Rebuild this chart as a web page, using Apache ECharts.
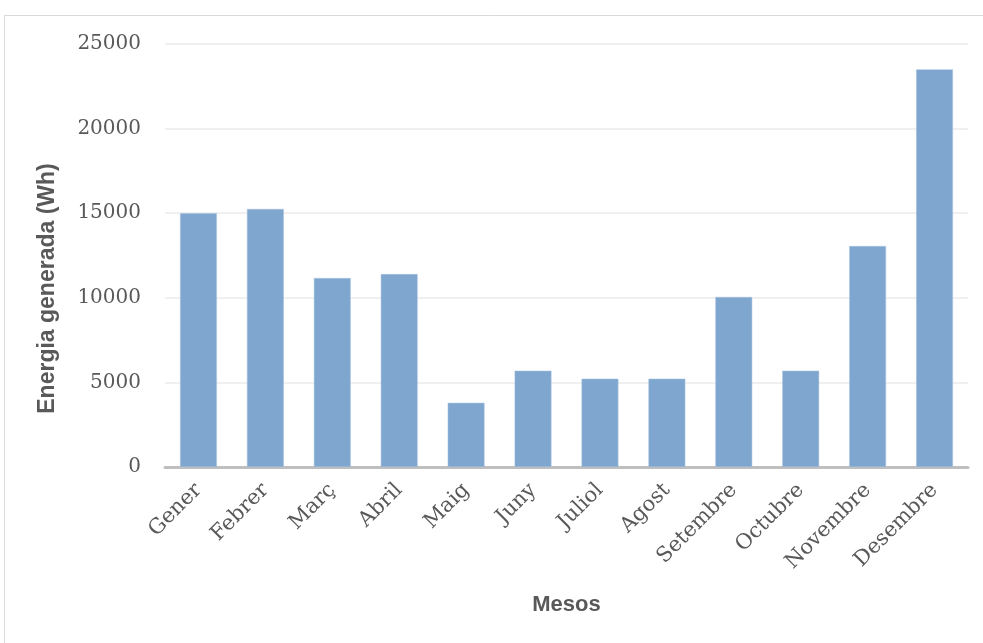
<!DOCTYPE html>
<html>
<head>
<meta charset="utf-8">
<style>
  html, body { margin: 0; padding: 0; background: #ffffff; }
  #chart { width: 983px; height: 643px; }
</style>
<script src="https://cdn.jsdelivr.net/npm/echarts@6/dist/echarts.min.js"></script>
</head>
<body>
<div id="chart"></div>
<script>
// Monthly generated energy (Wh)
const months = ['Gener', 'Febrer', 'Març', 'Abril', 'Maig', 'Juny', 'Juliol', 'Agost', 'Setembre', 'Octubre', 'Novembre', 'Desembre'];
const energyWh = [15000, 15250, 11170, 11400, 3790, 5690, 5220, 5220, 10050, 5690, 13060, 23500];
const yTicks = { min: 0, max: 25000, interval: 5000 };

const chart = echarts.init(document.getElementById('chart'), null, { renderer: 'canvas' });

chart.setOption({
  animation: false,
  backgroundColor: '#ffffff',
  graphic: [
    {
      type: 'rect',
      shape: { x: 4.5, y: 15.5, width: 1100, height: 800 },
      style: { fill: 'none', stroke: '#d9d9d9', lineWidth: 1 },
      silent: true
    }
  ],
  grid: { left: 165, right: 15, top: 44, bottom: 176, containLabel: false },
  xAxis: {
    type: 'category',
    data: months,
    name: 'Mesos',
    nameLocation: 'middle',
    nameGap: 127,
    nameTextStyle: { fontFamily: 'Liberation Sans', fontWeight: 'bold', fontSize: 22, color: '#595959' },
    axisLine: { lineStyle: { color: '#bfbfbf', width: 3 } },
    axisTick: { show: false },
    axisLabel: {
      rotate: 45,
      margin: 20,
      interval: 0,
      fontFamily: 'DejaVu Serif',
      fontSize: 21,
      color: '#595959'
    }
  },
  yAxis: {
    type: 'value',
    min: yTicks.min,
    max: yTicks.max,
    interval: yTicks.interval,
    name: 'Energia generada (Wh)',
    nameLocation: 'middle',
    nameGap: 106,
    nameRotate: 90,
    nameTextStyle: { fontFamily: 'Liberation Sans', fontWeight: 'bold', fontSize: 23, color: '#595959', padding: [0, 66, 0, 0] },
    axisLine: { show: false },
    axisTick: { show: false },
    splitLine: { lineStyle: { color: '#f0f0f0', width: 2 } },
    axisLabel: {
      margin: 24,
      fontFamily: 'DejaVu Serif',
      fontSize: 20,
      color: '#595959',
      formatter: (v) => String(v)
    }
  },
  series: [
    {
      type: 'bar',
      data: energyWh,
      barWidth: '55%',
      itemStyle: { color: '#7fa6cf', borderColor: '#a9c3e0', borderWidth: 0.5 }
    }
  ]
});
</script>
</body>
</html>
